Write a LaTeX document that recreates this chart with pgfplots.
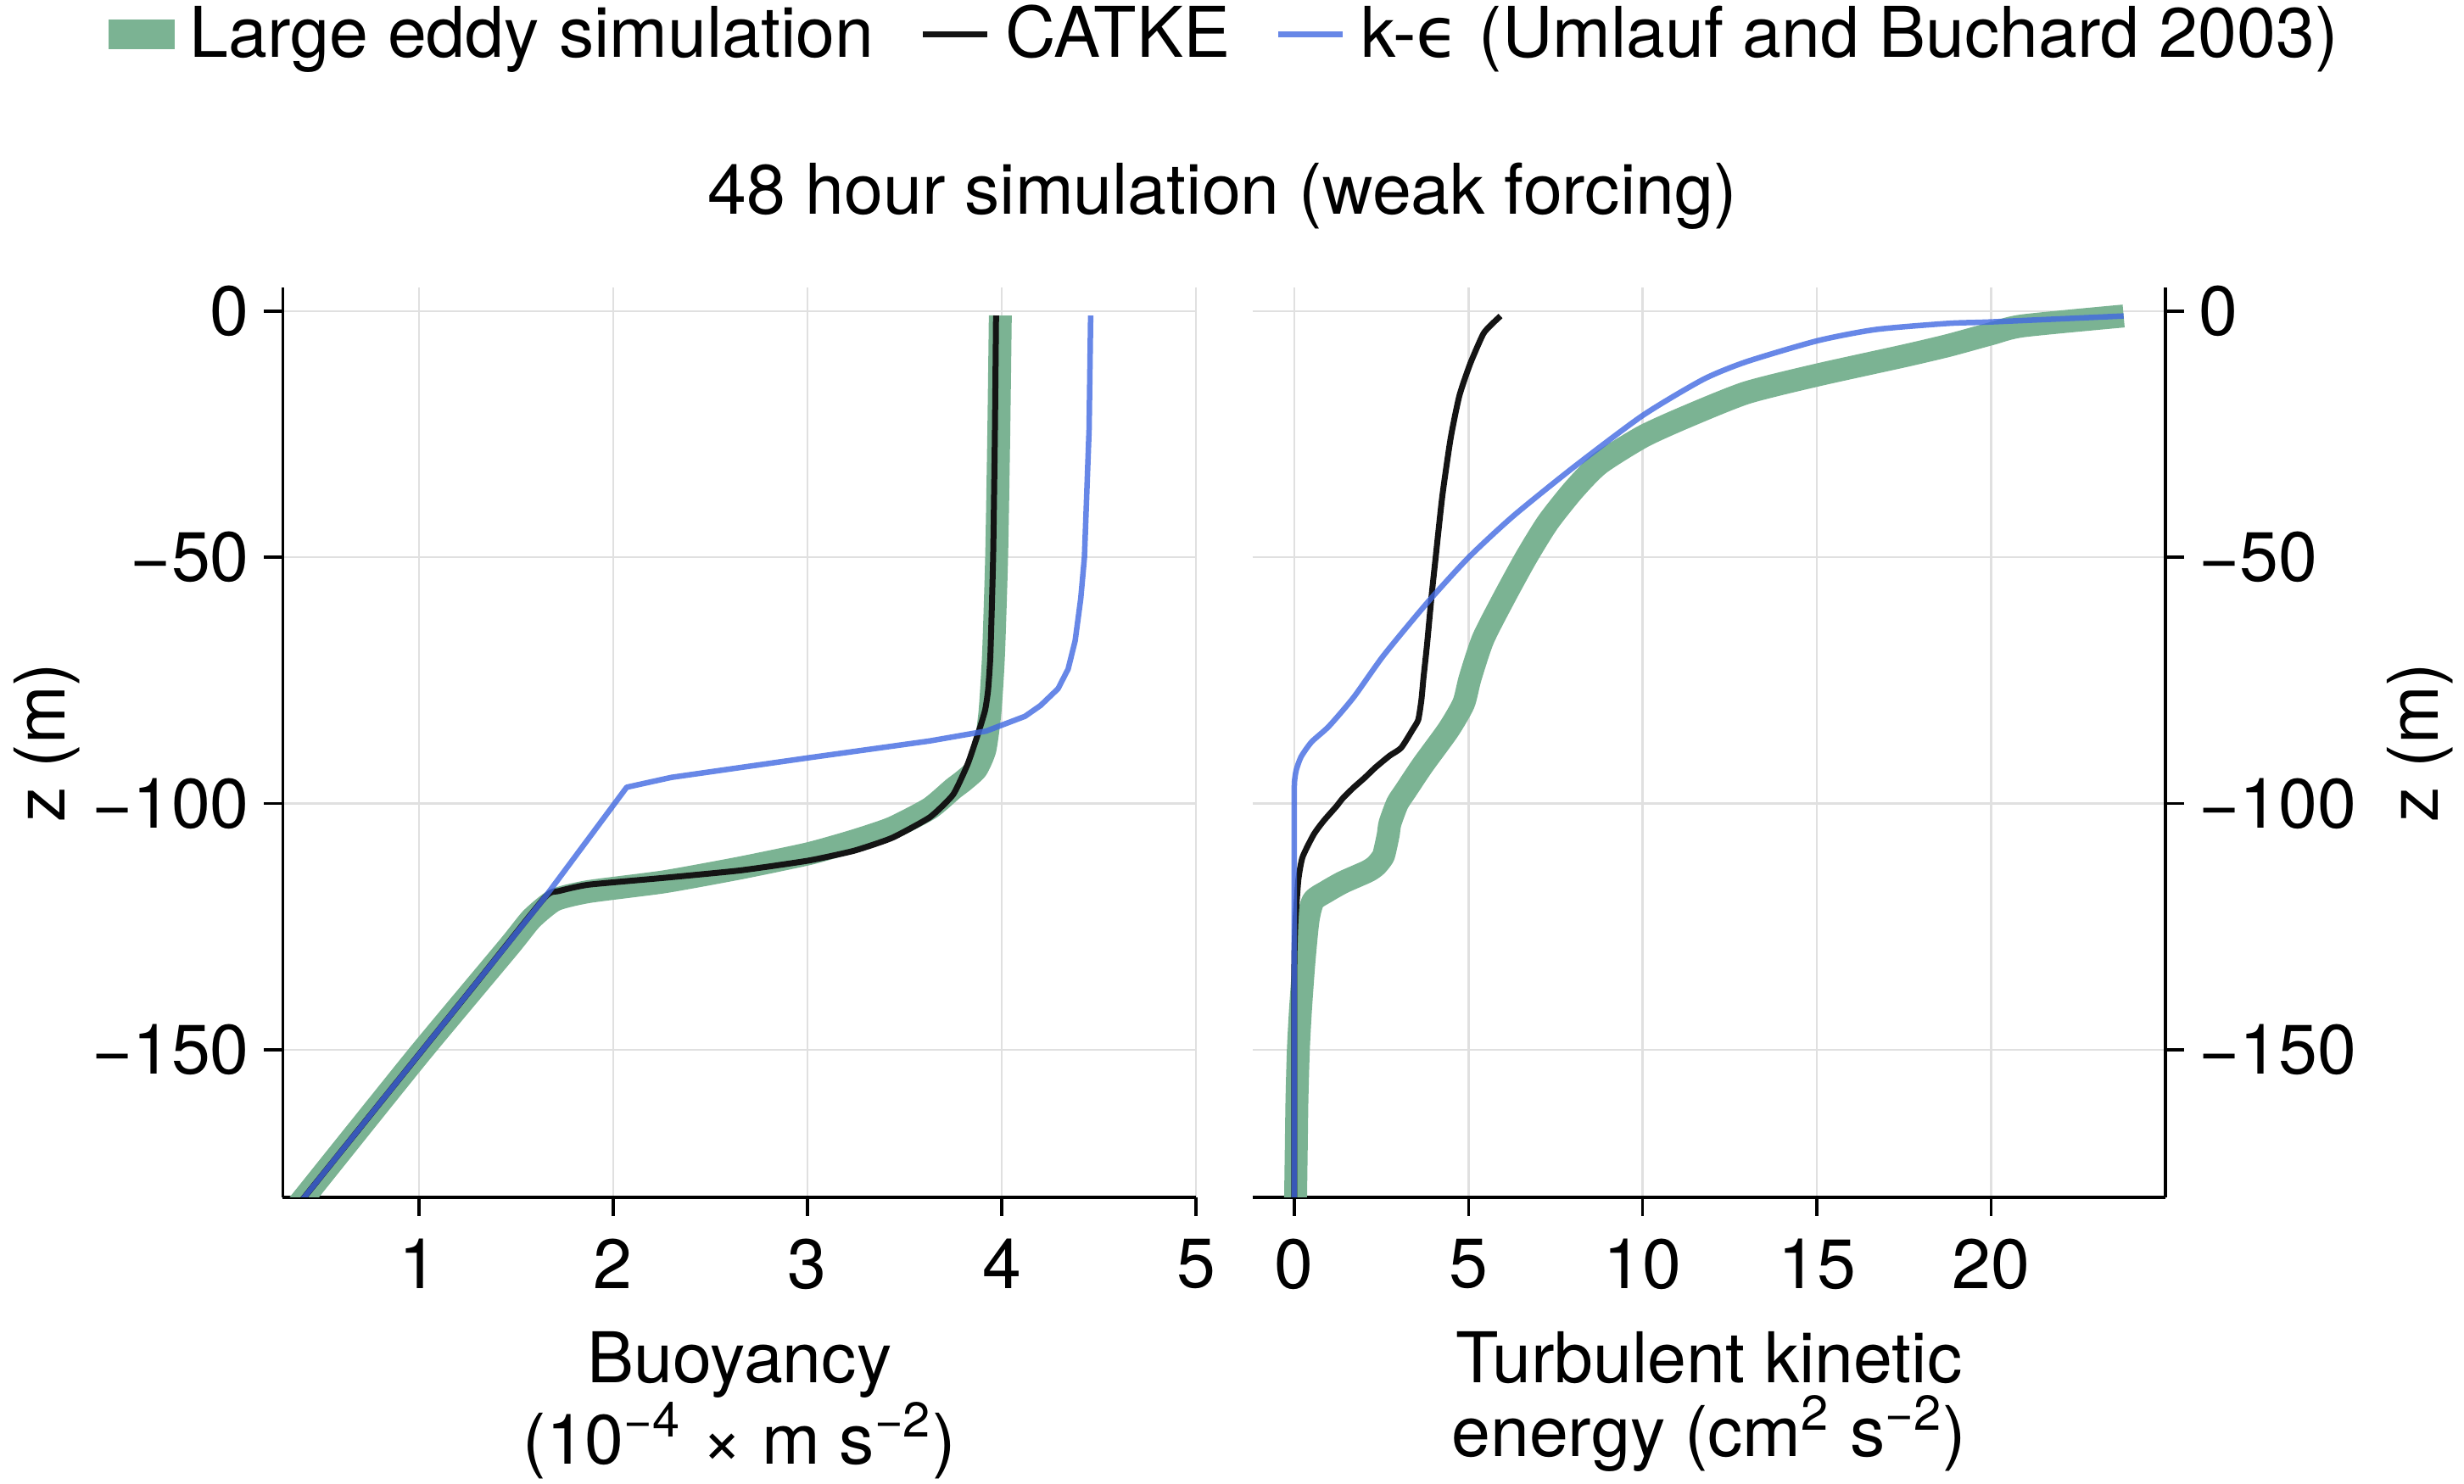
\documentclass[border=0pt]{standalone}
\usepackage{fontspec}
\setmainfont{TeX Gyre Heros}
\newfontfamily\dejavu{DejaVu Sans}
\usepackage{pgfplots}
\pgfplotsset{compat=1.18}
\definecolor{lesgreen}{RGB}{123,179,147}
\definecolor{keblue}{RGB}{65,105,225}
\definecolor{catke}{RGB}{20,20,20}
\newcommand{\fs}{\fontsize{16.5}{17.4}\selectfont}
\pgfplotsset{
  myax/.style={
    scale only axis, width=215.3pt, height=214.6pt,
    ymin=-180, ymax=4.8,
    ytick={-150,-100,-50,0}, yticklabels={−150,−100,−50,0},
    grid=major, major grid style={line width=0.5pt, black!12},
    tick align=outside, major tick length=4.4pt,
    tick style={black, line width=0.7pt},
    axis line style={line width=0.7pt},
    tick label style={font=\fs},
    xticklabel style={yshift=-1.9pt},
    label style={font=\fs},
    axis x line*=bottom,
  },
  les/.style={lesgreen, line width=5.4pt, line join=round},
  cat/.style={catke, line width=1.4pt, line join=round},
  ke/.style={keblue, opacity=0.8, line width=1.3pt, line join=round},
  lesleg/.style={legend image code/.code={\draw[##1, line width=7pt] (0pt,0pt) -- (15.6pt,0pt);}},
  lineleg/.style={legend image code/.code={\draw[##1] (0pt,0pt) -- (15.2pt,0pt); \path (18.8pt,0pt);}},
}

\begin{document}
\begin{tikzpicture}[font=\fs]
\useasboundingbox (-66.7pt,-67.6pt) rectangle (514.3pt,282.4pt);
\begin{axis}[myax, at={(0pt,0pt)}, anchor=south west,
  xmin=0.3, xmax=5, xtick={1,2,3,4,5}, xticklabels={1,2,3,4,5},
  axis y line*=left,
  xlabel={Buoyancy\\(10\textsuperscript{−4} × m s\textsuperscript{−2})},
  xlabel style={align=center, at={(axis description cs:0.5,-0.147)}, anchor=north, inner sep=0pt},
  ylabel={z (m)},
  ylabel style={at={(axis description cs:-0.2582,0.5)}, anchor=center, inner sep=0pt},
  title={48 hour simulation (weak forcing)},
  title style={at={(axis description cs:1.029,1.072)}, anchor=center, inner sep=0pt, font=\fs},
  legend columns=3,
  legend style={at={(axis description cs:1.022,1.278)}, anchor=center, draw=none, fill=none,
    inner sep=0pt, outer sep=0pt, font=\fs, column sep=0pt, nodes={inner sep=0pt},
    /tikz/every odd column/.append style={column sep=0pt},
    /tikz/every even column/.append style={column sep=10.8pt}},
  legend cell align=left,
]
\addplot[les, lesleg, smooth, tension=0.35] coordinates {
(3.993,-0.9) (3.985,-25) (3.974,-50) (3.958,-69.8) (3.94,-81.3) (3.914,-89) (3.87,-93) (3.80,-95.5) (3.75,-97) (3.63,-101) (3.435,-105) (3.24,-107.6) (3.006,-110.2) (2.654,-113.1) (2.264,-115.9) (1.873,-117.9) (1.70,-119.6) (1.58,-123.4) (1.463,-129.1) (1.0,-151) (0.41,-180) (0.37,-182)
};
\addlegendentry{Large eddy simulation}
\addplot[cat, lineleg, smooth, tension=0.3] coordinates {
(3.971,-0.9) (3.965,-25) (3.956,-50) (3.942,-69.8) (3.93,-77) (3.915,-81) (3.885,-85) (3.826,-91.9) (3.75,-98.2) (3.63,-102.8) (3.435,-107) (3.24,-109.6) (3.006,-111.6) (2.654,-113.6) (2.264,-115.1) (1.873,-116.5) (1.72,-117.8) (1.648,-119.1) (1.293,-136.6) (1.0,-151) (0.41,-180) (0.37,-182)
};
\addlegendentry{CATKE}
\addplot[ke, lineleg] coordinates {
(4.458,-0.9) (4.45,-24) (4.426,-50) (4.407,-58.4) (4.378,-67) (4.342,-72.7) (4.29,-76.7) (4.20,-80.1) (4.12,-82.3) (3.92,-85.3) (3.63,-87.3) (3.01,-90.7) (2.30,-94.7) (2.07,-96.7) (1.648,-119.1) (1.293,-136.6) (1.0,-151) (0.41,-180) (0.37,-182)
};
\addlegendentry{k-{\dejavu ϵ} (Umlauf and Buchard 2003)}
\end{axis}

\begin{axis}[myax, at={(228.6pt,0pt)}, anchor=south west,
  xmin=-1.2, xmax=25, xtick={0,5,10,15,20}, xticklabels={0,5,10,15,20},
  axis y line*=right,
  xlabel={Turbulent kinetic\\energy (cm\textsuperscript{2} s\textsuperscript{−2})},
  xlabel style={align=center, at={(axis description cs:0.5,-0.147)}, anchor=north, inner sep=0pt},
  ylabel={z (m)},
  ylabel style={at={(axis description cs:1.2787,0.5)}, anchor=center, inner sep=0pt},
]
\addplot[les, smooth, tension=0.4] coordinates {
(23.8,-1.0) (20.9,-3.0) (20.0,-4.6) (18.76,-7.0) (17.5,-9.1) (15.0,-13.0) (12.97,-16.6) (11.24,-21.5) (10.0,-25.5) (8.76,-31) (8.02,-36.3) (7.28,-42.9) (6.66,-50) (6.04,-58) (5.42,-66.6) (5.05,-74.5) (4.86,-79.7) (4.43,-85) (3.69,-92.2) (3.19,-97.5) (2.96,-100) (2.75,-104) (2.70,-106.3) (2.62,-109) (2.55,-110.8) (2.35,-112.6) (2.1,-113.8) (1.4,-116) (0.9,-118) (0.55,-119.7) (0.40,-123.6) (0.28,-132.2) (0.18,-142) (0.12,-150) (0.08,-160) (0.06,-170) (0.04,-180) (0.03,-182)
};
\addplot[cat, smooth, tension=0.35] coordinates {
(5.92,-1.0) (5.65,-2.8) (5.42,-4.7) (5.05,-10.7) (4.74,-17.2) (4.49,-25.8) (4.25,-37.6) (4.06,-50) (3.94,-58) (3.81,-67.9) (3.71,-74.5) (3.65,-79) (3.56,-83) (3.40,-85) (3.07,-88.7) (2.74,-90.3) (2.33,-92.7) (2.02,-94.8) (1.70,-96.8) (1.40,-98.9) (1.21,-100.6) (0.85,-103.5) (0.56,-106.3) (0.24,-110.9) (0.12,-115.5) (0.04,-123.6) (0.01,-130) (0,-136) (0,-142) (0,-150) (0,-160) (0,-170) (0,-182)
};
\addplot[ke, smooth, tension=0.4] coordinates {
(23.8,-1.0) (20.0,-2.2) (18.76,-2.5) (16.68,-3.75) (15.0,-6.05) (12.97,-10.3) (11.73,-13.9) (10.0,-21.2) (8.02,-31.7) (6.29,-41.6) (5.01,-50) (3.81,-59.3) (2.57,-69.9) (1.71,-78.4) (1.0,-84.3) (0.5,-87.5) (0.2,-90.5) (0.06,-93.2) (0.01,-95.5) (0,-98) (0,-101) (0,-106) (0,-115) (0,-125) (0,-140) (0,-155) (0,-170) (0,-182)
};
\end{axis}
\end{tikzpicture}
\end{document}
